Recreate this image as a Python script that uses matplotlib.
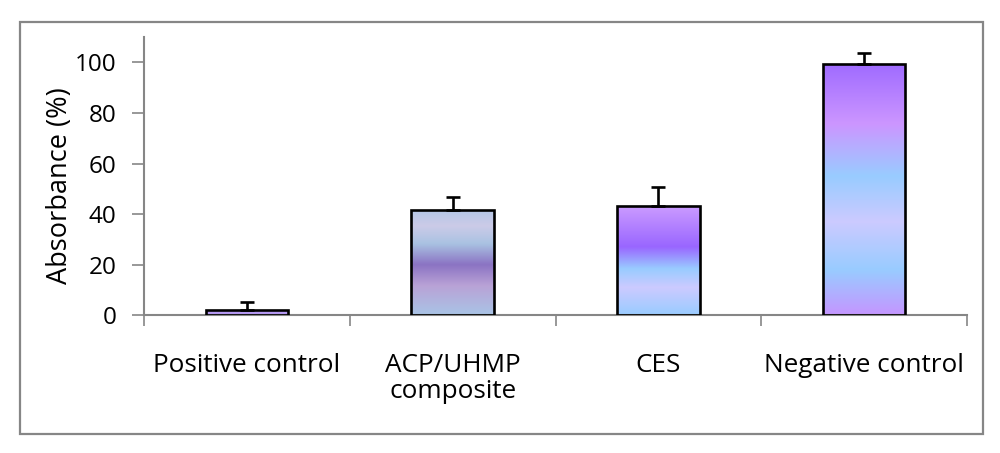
import matplotlib
matplotlib.use('Agg')
import matplotlib.pyplot as plt
import numpy as np
from matplotlib import rcParams
from matplotlib.colors import LinearSegmentedColormap, to_rgb
from matplotlib.patches import Rectangle

rcParams['font.family'] = ['Open Sans', 'DejaVu Sans']
rcParams['font.size'] = 16

categories = ['Positive control', 'ACP/UHMP\ncomposite', 'CES', 'Negative control']
values = [2.1, 41.5, 43.3, 99.3]
errors = [3.0, 5.1, 7.3, 4.4]

# gradient stops for each bar, top -> bottom
gradients = [
    [(0.0, '#c0a4f8'), (1.0, '#b294f2')],
    [(0.0, '#b4c6e6'), (0.15, '#cccbe8'), (0.32, '#a9c2e2'), (0.52, '#8b73c3'),
     (0.72, '#b9a2d6'), (1.0, '#a9c4e6')],
    [(0.0, '#cc9cff'), (0.38, '#9966ff'), (0.58, '#99ccff'), (0.75, '#cccaff'), (1.0, '#99ccff')],
    [(0.0, '#9f6bff'), (0.24, '#cc96ff'), (0.45, '#99ccff'), (0.63, '#cccaff'),
     (0.82, '#99ccff'), (1.0, '#c496ff')],
]

fig = plt.figure(figsize=(10, 4.53), dpi=100)
ax = fig.add_axes([0.144, 0.304, 0.823, 0.614])

x = np.arange(len(categories))
bars = ax.bar(x, values, width=0.4, facecolor='none', edgecolor='black', linewidth=1.9, zorder=3)
ax.errorbar(x, values, yerr=[np.zeros(len(errors)), errors], fmt='none', ecolor='black',
            elinewidth=1.9, capsize=5, capthick=1.9, zorder=4)

for bar, stops in zip(bars, gradients):
    cmap = LinearSegmentedColormap.from_list('g', [(p, to_rgb(c)) for p, c in stops])
    grad = np.linspace(0, 1, 256).reshape(-1, 1)
    x0, y0 = bar.get_x(), bar.get_y()
    w, h = bar.get_width(), bar.get_height()
    im = ax.imshow(grad, cmap=cmap, aspect='auto', extent=[x0, x0 + w, y0, y0 + h],
                   origin='upper', zorder=2)
    im.set_clip_path(bar)

ax.set_xlim(-0.5, 3.5)
ax.set_ylim(0, 110)
ax.set_yticks([0, 20, 40, 60, 80, 100])
ax.set_xticks(np.arange(-0.5, 4, 1))
ax.set_xticklabels([])
ax.set_xticks(x, minor=True)
ax.set_xticklabels(categories, minor=True, fontsize=18.8, linespacing=1.05)
ax.tick_params(axis='x', which='minor', length=0, pad=27)
ax.tick_params(axis='x', which='major', length=8, width=1.2, color='#868686')
ax.tick_params(axis='y', length=9, width=1.2, color='#868686', pad=11, labelsize=17.5)

for s in ['top', 'right']:
    ax.spines[s].set_visible(False)
for s in ['left', 'bottom']:
    ax.spines[s].set_color('#868686')
    ax.spines[s].set_linewidth(1.5)

ax.set_ylabel('Absorbance (%)', fontsize=19.5)
ax.yaxis.set_label_coords(-0.085, 0.467)

fig.patches.append(Rectangle((0.02, 0.042), 0.963, 0.909, transform=fig.transFigure,
                             fill=False, edgecolor='#868686', linewidth=1.6))

plt.savefig('out.png', dpi=100)
